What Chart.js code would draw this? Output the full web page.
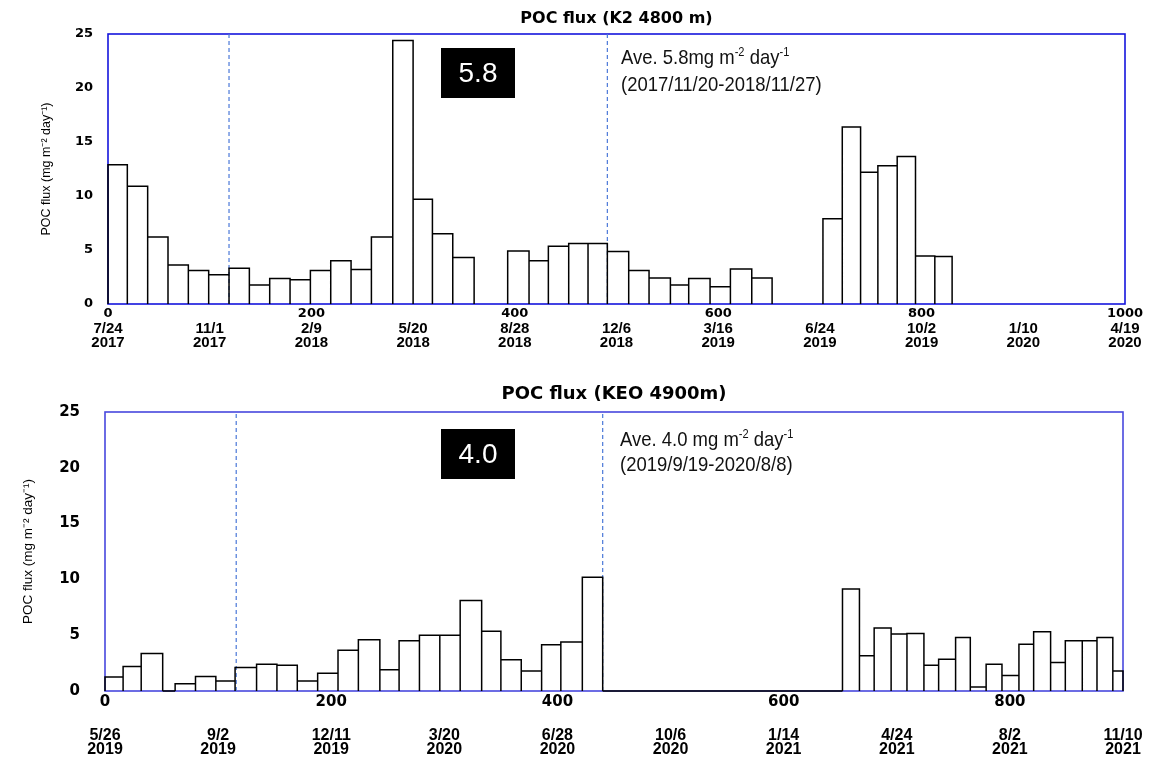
<!DOCTYPE html>
<html>
<head>
<meta charset="utf-8">
<script src="https://cdn.jsdelivr.net/npm/chart.js@4.4.1/dist/chart.umd.min.js"></script>
<style>
  html, body { margin: 0; padding: 0; background: #ffffff; }
  canvas { display: block; }
</style>
</head>
<body>
<canvas id="k2" width="1167" height="375"></canvas>
<canvas id="keo" width="1167" height="383"></canvas>
<script>
// ---------------- data: K2 (top) ----------------
const k2Title = 'POC flux (K2 4800 m)';
const k2Start = [0, 19, 39, 59, 79, 99, 119, 139, 159, 179, 199, 219, 239, 259, 280, 300, 319, 339,
                 393, 414, 433, 453, 472, 491, 512, 532, 553, 571, 592, 612, 633,
                 703, 722, 740, 757, 776, 794, 813];
const k2End   = [19, 39, 59, 79, 99, 119, 139, 159, 179, 199, 219, 239, 259, 280, 300, 319, 339, 360,
                 414, 433, 453, 472, 491, 512, 532, 553, 571, 592, 612, 633, 653,
                 722, 740, 757, 776, 794, 813, 830];
const k2Flux  = [12.9, 10.9, 6.2, 3.6, 3.1, 2.7, 3.3, 1.75, 2.35, 2.25, 3.1, 4.0, 3.2, 6.2, 24.4, 9.7, 6.5, 4.3,
                 4.9, 4.0, 5.35, 5.6, 5.6, 4.85, 3.1, 2.4, 1.75, 2.35, 1.6, 3.25, 2.4,
                 7.9, 16.4, 12.2, 12.8, 13.65, 4.45, 4.4];
const k2Period = [119, 491];
const k2DateLabels = [['7/24','2017'], ['11/1','2017'], ['2/9','2018'], ['5/20','2018'], ['8/28','2018'],
                      ['12/6','2018'], ['3/16','2019'], ['6/24','2019'], ['10/2','2019'], ['1/10','2020'], ['4/19','2020']];
const k2AveValue = '5.8';
const k2AveLine1 = [{t: 'Ave. 5.8mg m'}, {t: '-2', sup: true}, {t: ' day'}, {t: '-1', sup: true}];
const k2AveLine2 = [{t: '(2017/11/20-2018/11/27)'}];

// ---------------- data: KEO (bottom) ----------------
const keoTitle = 'POC flux (KEO 4900m)';
const keoStart = [0, 16, 32, 51, 62, 80, 98, 115, 134, 152, 170, 188, 206, 224, 243, 260, 278, 296, 314, 333,
                  350, 368, 386, 403, 422, 440, 652, 667, 680, 695, 709, 724, 737, 752, 765, 779,
                  793, 808, 821, 836, 849, 864, 877, 891];
const keoEnd   = [16, 32, 51, 62, 80, 98, 115, 134, 152, 170, 188, 206, 224, 243, 260, 278, 296, 314, 333, 350,
                  368, 386, 403, 422, 440, 652, 667, 680, 695, 709, 724, 737, 752, 765, 779, 793,
                  808, 821, 836, 849, 864, 877, 891, 900];
const keoFlux  = [1.25, 2.2, 3.35, 0, 0.65, 1.3, 0.9, 2.1, 2.4, 2.3, 0.9, 1.6, 3.65, 4.6, 1.9, 4.5, 5.0, 5.0, 8.1, 5.35,
                  2.8, 1.8, 4.15, 4.4, 10.2, 0, 9.15, 3.15, 5.65, 5.1, 5.15, 2.3, 2.85, 4.8, 0.35, 2.4,
                  1.4, 4.2, 5.3, 2.55, 4.5, 4.5, 4.8, 1.8];
const keoPeriod = [116, 440];
const keoDateLabels = [['5/26','2019'], ['9/2','2019'], ['12/11','2019'], ['3/20','2020'], ['6/28','2020'],
                       ['10/6','2020'], ['1/14','2021'], ['4/24','2021'], ['8/2','2021'], ['11/10','2021']];
const keoAveValue = '4.0';
const keoAveLine1 = [{t: 'Ave. 4.0 mg m'}, {t: '-2', sup: true}, {t: ' day'}, {t: '-1', sup: true}];
const keoAveLine2 = [{t: '(2019/9/19-2020/8/8)'}];

const yTitle = 'POC flux (mg m\u207B\u00B2 day\u207B\u00B9)';
const yMax = 25;

// ---------------- helpers ----------------
function barOutline(starts, ends, vals) {
  const pts = [];
  for (let i = 0; i < vals.length; i++) {
    pts.push({x: starts[i], y: 0}, {x: starts[i], y: vals[i]}, {x: ends[i], y: vals[i]}, {x: ends[i], y: 0}, {x: ends[i], y: null});
  }
  return pts;
}
function vLines(xs, top) {
  const pts = [];
  xs.forEach(x => pts.push({x: x, y: 0}, {x: x, y: top}, {x: x, y: null}));
  return pts;
}
function drawRich(ctx, parts, x, y, size, sx) {
  ctx.save();
  ctx.translate(x, y);
  ctx.scale(sx, 1);
  let cx = 0;
  for (const p of parts) {
    const fs = p.sup ? size * 0.6 : size;
    ctx.font = fs + 'px "Liberation Sans", Arial, sans-serif';
    ctx.fillText(p.t, cx, p.sup ? -size * 0.4 : 0);
    cx += ctx.measureText(p.t).width;
  }
  ctx.restore();
}

const framePlugin = {
  id: 'frame',
  beforeDatasetsDraw(chart, args, o) {
    const {ctx, chartArea: a} = chart;
    ctx.save();
    ctx.strokeStyle = o.color;
    ctx.lineWidth = o.width;
    ctx.strokeRect(a.left, a.top, a.right - a.left, a.bottom - a.top);
    ctx.restore();
  }
};
const avePlugin = {
  id: 'aveNote',
  afterDraw(chart, args, o) {
    const {ctx, chartArea: a} = chart;
    ctx.save();
    const bx = a.left + o.boxX, by = a.top + o.boxY;
    ctx.fillStyle = '#000';
    ctx.fillRect(bx, by, o.boxW, o.boxH);
    ctx.fillStyle = '#fff';
    ctx.font = '28px "Liberation Sans", Arial, sans-serif';
    ctx.textAlign = 'center';
    ctx.textBaseline = 'middle';
    ctx.fillText(o.value, bx + o.boxW / 2, by + o.boxH / 2 + 1);
    ctx.fillStyle = '#111';
    ctx.textAlign = 'left';
    ctx.textBaseline = 'alphabetic';
    drawRich(ctx, o.line1, a.left + o.textX, a.top + o.line1Y, 21, 0.88);
    drawRich(ctx, o.line2, a.left + o.textX, a.top + o.line2Y, 21, 0.88);
    ctx.restore();
  }
};

function makeChart(id, cfg) {
  return new Chart(document.getElementById(id), {
    type: 'scatter',
    data: {
      datasets: [
        {
          data: barOutline(cfg.start, cfg.end, cfg.flux),
          showLine: true, spanGaps: false, pointRadius: 0, pointHoverRadius: 0,
          borderColor: '#000', borderWidth: 1.5, backgroundColor: 'rgba(0,0,0,0)', fill: false,
          tension: 0, clip: 3
        },
        {
          data: vLines(cfg.period, yMax),
          showLine: true, spanGaps: false, pointRadius: 0, pointHoverRadius: 0,
          borderColor: '#4a78d8', borderWidth: 1.2, borderDash: [4, 3], fill: false, tension: 0, clip: 4
        }
      ]
    },
    options: {
      responsive: false,
      animation: false,
      events: [],
      layout: {padding: {left: 0, right: cfg.padRight, top: 0, bottom: 0}},
      plugins: {
        legend: {display: false},
        tooltip: {enabled: false},
        title: {
          display: true, text: cfg.title, fullSize: false, color: '#000',
          font: {family: '"DejaVu Sans", sans-serif', weight: 'bold', size: cfg.titleSize},
          padding: {top: cfg.titlePadTop, bottom: cfg.titlePadBottom}
        },
        frame: {color: cfg.frameColor, width: 1.6},
        aveNote: cfg.note
      },
      scales: {
        x: {
          type: 'linear', position: 'bottom', weight: 0, min: 0, max: cfg.xMax,
          grid: {display: false, drawTicks: false, tickLength: 0}, border: {display: false},
          ticks: {
            stepSize: 200, includeBounds: false, autoSkip: false, maxRotation: 0,
            color: '#000', padding: cfg.xPad,
            font: {family: '"DejaVu Sans", sans-serif', weight: 'bold', size: cfg.xFont},
            callback: v => String(v)
          },
          afterFit: s => { s.height = cfg.xHeight; }
        },
        xd: {
          type: 'linear', position: 'bottom', weight: 1, min: 0, max: cfg.xMax,
          grid: {display: false, drawTicks: false, tickLength: 0}, border: {display: false},
          ticks: {
            stepSize: 100, autoSkip: false, maxRotation: 0, color: '#000', padding: cfg.dPad,
            font: {family: '"Liberation Sans", Arial, sans-serif', weight: 'bold', size: cfg.dFont, lineHeight: '14px'},
            callback: v => cfg.dates[Math.round(v / 100)] || ''
          },
          afterFit: s => { s.height = cfg.dHeight; }
        },
        y: {
          type: 'linear', position: 'left', min: 0, max: yMax,
          grid: {display: false, drawTicks: false, tickLength: 0}, border: {display: false},
          ticks: {
            stepSize: 5, color: '#000', padding: cfg.yPad,
            font: {family: '"DejaVu Sans", sans-serif', weight: 'bold', size: cfg.yFont}
          },
          title: {
            display: true, text: yTitle, color: '#000',
            font: {family: '"Liberation Sans", Arial, sans-serif', size: cfg.yTitleSize},
            padding: {top: cfg.yTitlePad, bottom: 0}
          },
          afterFit: s => { s.width = cfg.yWidth; }
        }
      }
    },
    plugins: [framePlugin, avePlugin]
  });
}

makeChart('k2', {
  title: k2Title, titleSize: 16, titlePadTop: 9, titlePadBottom: 5.8,
  start: k2Start, end: k2End, flux: k2Flux, period: k2Period, dates: k2DateLabels,
  xMax: 1000, padRight: 42, frameColor: '#1414dc',
  xFont: 13, xPad: 2, xHeight: 18, dFont: 15, dPad: 0, dHeight: 53,
  yFont: 13, yPad: 15, yWidth: 108, yTitleSize: 12.5, yTitlePad: 39,
  note: {value: k2AveValue, boxX: 333, boxY: 14, boxW: 74, boxH: 50,
         line1: k2AveLine1, line2: k2AveLine2, textX: 513, line1Y: 30, line2Y: 57}
});

makeChart('keo', {
  title: keoTitle, titleSize: 18, titlePadTop: 8.2, titlePadBottom: 7.2,
  start: keoStart, end: keoEnd, flux: keoFlux, period: keoPeriod, dates: keoDateLabels,
  xMax: 900, padRight: 44, frameColor: '#4848de',
  xFont: 15, xPad: 2, xHeight: 20, dFont: 16, dPad: 18, dHeight: 47,
  yFont: 15, yPad: 25, yWidth: 105, yTitleSize: 13.5, yTitlePad: 20,
  note: {value: keoAveValue, boxX: 336, boxY: 17, boxW: 74, boxH: 50,
         line1: keoAveLine1, line2: keoAveLine2, textX: 515, line1Y: 34, line2Y: 59}
});
</script>
</body>
</html>
